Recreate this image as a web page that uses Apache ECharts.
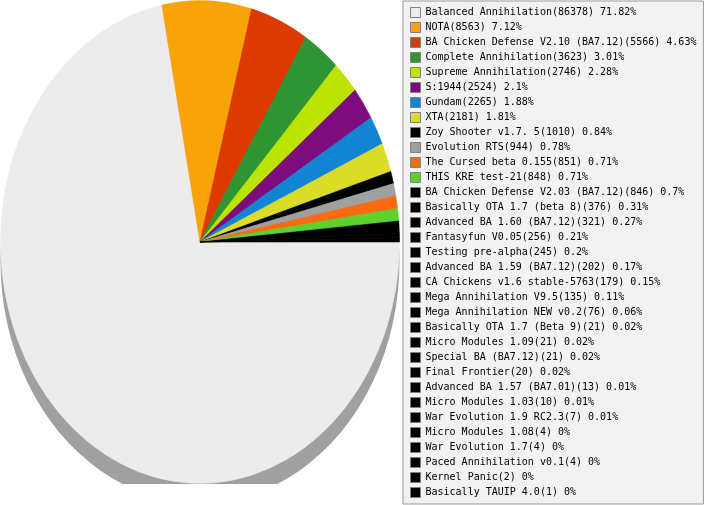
<!DOCTYPE html>
<html>
<head>
<meta charset="utf-8">
<script src="https://cdn.jsdelivr.net/npm/echarts@6.0.0/dist/echarts.min.js"></script>
<style>
    body { margin: 0; background: #fff; }
    #wrap { position: relative; width: 707px; height: 505px; overflow: hidden; }
    /* the pie is drawn round and stretched into the tall ellipse of the original */
    #pieContainer { position: absolute; left: 0; top: 0; width: 400px; height: 400px;
        transform: scaleY(1.21); transform-origin: 0 0; }
    #legendContainer { position: absolute; left: 400px; top: 0; width: 307px; height: 505px; }
</style>
</head>
<body>
<div id="wrap">
    <div id="pieContainer"></div>
    <div id="legendContainer"></div>
</div>
<script>
var modNames = ['Balanced Annihilation', 'NOTA', 'BA Chicken Defense V2.10 (BA7.12)', 'Complete Annihilation',
    'Supreme Annihilation', 'S:1944', 'Gundam', 'XTA', 'Zoy Shooter v1.7. 5', 'Evolution RTS',
    'The Cursed beta 0.155', 'THIS KRE test-21', 'BA Chicken Defense V2.03 (BA7.12)',
    'Basically OTA 1.7 (beta 8)', 'Advanced BA 1.60 (BA7.12)', 'Fantasyfun V0.05', 'Testing pre-alpha',
    'Advanced BA 1.59 (BA7.12)', 'CA Chickens v1.6 stable-5763', 'Mega Annihilation V9.5',
    'Mega Annihilation NEW v0.2', 'Basically OTA 1.7 (Beta 9)', 'Micro Modules 1.09', 'Special BA (BA7.12)',
    'Final Frontier', 'Advanced BA 1.57 (BA7.01)', 'Micro Modules 1.03', 'War Evolution 1.9 RC2.3',
    'Micro Modules 1.08', 'War Evolution 1.7', 'Paced Annihilation v0.1', 'Kernel Panic', 'Basically TAUIP 4.0'];
var modGames = [86378, 8563, 5566, 3623, 2746, 2524, 2265, 2181, 1010, 944, 851, 848, 846, 376, 321, 256, 245,
    202, 179, 135, 76, 21, 21, 21, 20, 13, 10, 7, 4, 4, 4, 2, 1];
var modColors = ['#ececec', '#f8a308', '#dc3a00', '#2f9432', '#bde300', '#7d0c7e', '#1184d4', '#dbdc28',
    '#000000', '#a0a0a0', '#fd6a11', '#5ed12f'];

var pieChart = echarts.init(document.getElementById('pieContainer'), null, {renderer: 'svg'});
var legendChart = echarts.init(document.getElementById('legendContainer'));

var totalGames = modGames.reduce(function (a, b) { return a + b; }, 0);

// the original renderer snaps every slice to whole degrees and stops at 360,
// so the tiny tail slices collapse; mimic that for the drawn sizes
function buildData(selected) {
    var on = modNames.map(function (name) { return !selected || selected[name] !== false; });
    var sum = 0;
    modGames.forEach(function (v, i) { if (on[i]) sum += v; });
    var used = 0;
    return modNames.map(function (name, i) {
        var deg = on[i] && sum ? Math.round(modGames[i] / sum * 360) : 0;
        deg = Math.max(0, Math.min(deg, 360 - used));
        used += deg;
        var color = modColors[i] || '#000000';
        return {
            name: name,
            value: deg,
            itemStyle: {color: color, borderColor: color, borderWidth: deg > 0 ? 0.5 : 0}
        };
    });
}

function legendText(name) {
    var i = modNames.indexOf(name);
    var pct = Math.round(modGames[i] / totalGames * 10000) / 100;
    return name + '(' + modGames[i] + ') ' + pct + '%';
}

pieChart.setOption({
    animation: false,
    series: [
        {   // grey drop shadow under the pie
            type: 'pie',
            silent: true,
            center: [200, 216],
            radius: 199.5,
            label: {show: false},
            labelLine: {show: false},
            data: [{value: totalGames, itemStyle: {color: '#a0a0a0'}}]
        },
        {
            type: 'pie',
            center: [200, 200],
            radius: 199.5,
            startAngle: 0,
            clockwise: true,
            minAngle: 0,
            avoidLabelOverlap: false,
            label: {show: false},
            labelLine: {show: false},
            emphasis: {disabled: true},
            data: buildData()
        }
    ]
});

legendChart.setOption({
    animation: false,
    legend: {
        orient: 'vertical',
        left: 3,
        top: 1,
        padding: [6, 7, 6, 7],
        itemGap: 4,
        itemWidth: 10,
        itemHeight: 10,
        icon: 'rect',
        backgroundColor: '#f2f2f2',
        borderColor: '#999999',
        borderWidth: 1,
        itemStyle: {borderColor: '#808080', borderWidth: 1},
        textStyle: {fontFamily: 'DejaVu Sans Mono', fontSize: 10, lineHeight: 10, color: '#000'},
        formatter: legendText,
        data: modNames
    },
    series: [{
        type: 'pie',
        silent: true,
        radius: 0,
        center: [-100, -100],
        label: {show: false},
        data: buildData()
    }]
});

// keep the pie in step with the separate legend
legendChart.on('legendselectchanged', function (e) {
    pieChart.setOption({series: [{}, {data: buildData(e.selected)}]});
});
</script>
</body>
</html>
